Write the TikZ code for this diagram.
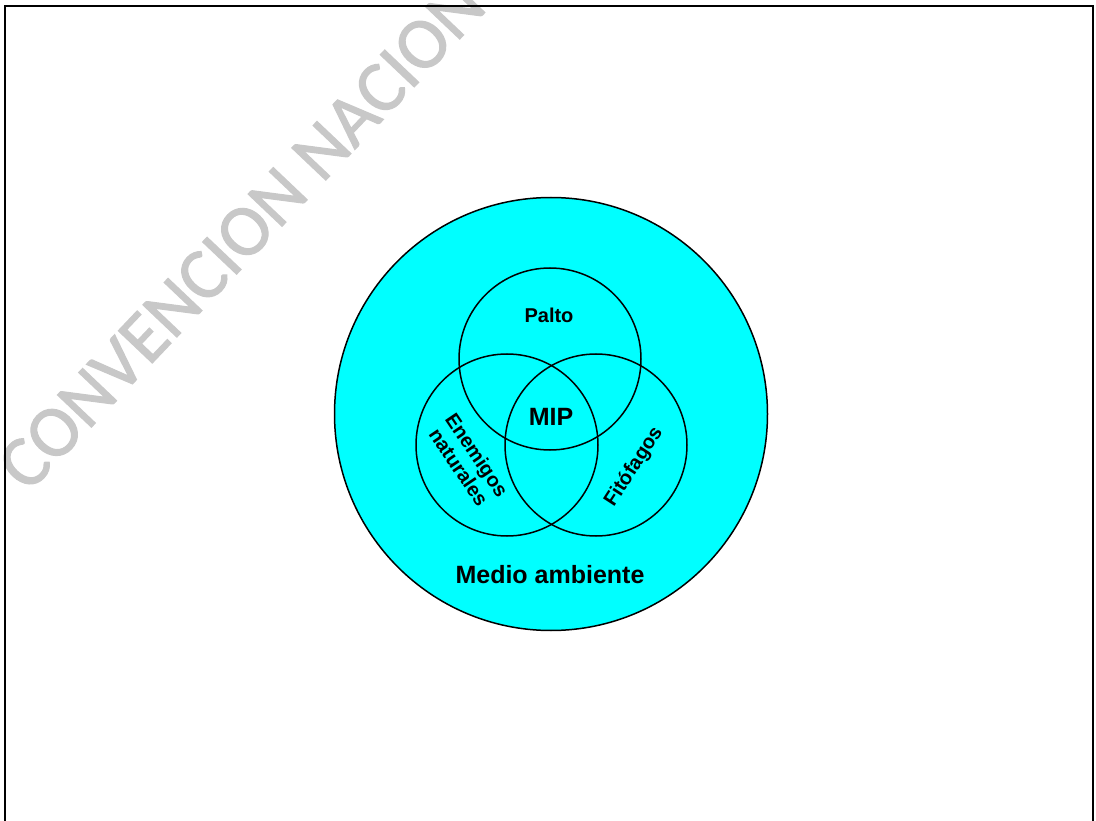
\documentclass[tikz,border=0pt]{standalone}
\usepackage{fontspec}
\setmainfont{Liberation Sans}
\newfontfamily\markfont[FakeBold=1.5]{Carlito}
\usetikzlibrary{positioning}
\definecolor{EnvCyan}{RGB}{0,255,255}
\definecolor{MarkGray}{RGB}{200,200,200}
\tikzset{
  envcircle/.style={circle,draw=black,fill=EnvCyan,line width=1.5pt,
    inner sep=0pt,minimum size=433pt},
  vennring/.style={circle,draw=black,line width=1.5pt,inner sep=0pt,
    minimum size=182pt},
  setlabel/.style={align=center,inner sep=0pt,
    font=\fontsize{20}{22}\selectfont\bfseries},
  biglabel/.style={align=center,inner sep=0pt,
    font=\fontsize{25}{28}\selectfont\bfseries},
  watermark/.style={anchor=base west,inner sep=0pt,text=MarkGray,
    font=\markfont\fontsize{73}{75}\selectfont}
}
\begin{document}
\begin{tikzpicture}[x=1pt,y=-1pt]
  \useasboundingbox (0,0) rectangle (1096,821);
  \node[watermark,rotate=46.5] (mark) at (28,494) {CONVENCION NACION};
  \draw[line width=2.5pt] (5,836) -- (5,6) -- (1093,6) -- (1093,836);
  \node[envcircle] (env) at (551,414) {};
  \node[vennring] (palto) at (550,359) {};
  \node[vennring] (enem) at (507,445) {};
  \node[vennring] (fito) at (596,445) {};
  \node[setlabel] (paltotxt) at (549,315) {Palto};
  \node[biglabel] (mip) at (551,417) {MIP};
  \node[setlabel,rotate=-56] (enemtxt) at (468,461) {Enemigos\\naturales};
  \node[setlabel,rotate=57] (fitotxt) at (634,467) {Fitófagos};
  \node[biglabel] (medio) at (550,575) {Medio ambiente};
\end{tikzpicture}
\end{document}
